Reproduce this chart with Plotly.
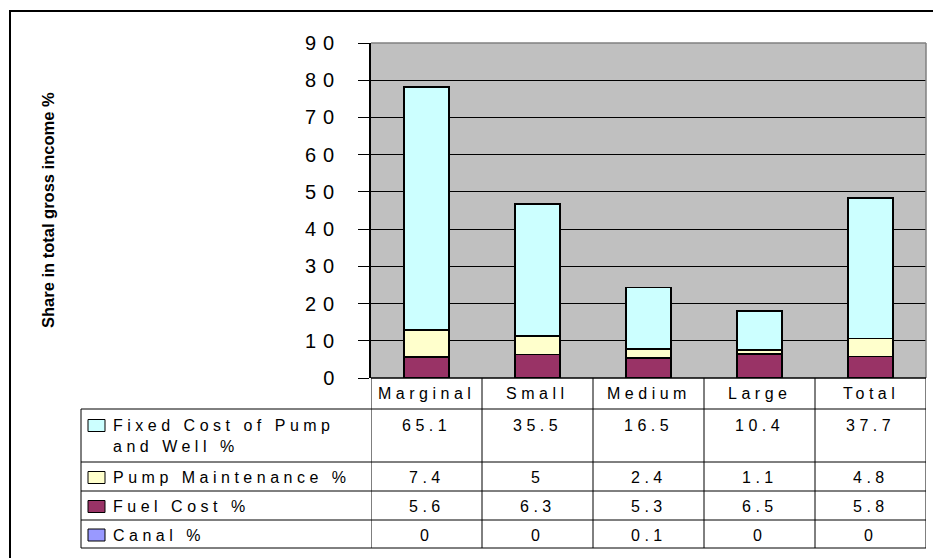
import textwrap
import plotly.graph_objects as go

# ---- data ----
categories = ["Marginal", "Small", "Medium", "Large", "Total"]
fixed_cost = [65.1, 35.5, 16.5, 10.4, 37.7]
pump_maintenance = [7.4, 5, 2.4, 1.1, 4.8]
fuel_cost = [5.6, 6.3, 5.3, 6.5, 5.8]
canal = [0, 0, 0.1, 0, 0]
y_ticks = [0, 10, 20, 30, 40, 50, 60, 70, 80, 90]

series_names = ["Fixed Cost of Pump and Well %", "Pump Maintenance %", "Fuel Cost %", "Canal %"]
series_values = [fixed_cost, pump_maintenance, fuel_cost, canal]
series_colors = ["#CCFFFF", "#FFFFCC", "#993366", "#9999FF"]

# ---- layout geometry (pixels) ----
W, H = 933, 558
L, R, T, B = 371, 7, 43, 180
PW, PH = W - L - R, H - T - B
FONT = "Arial, Liberation Sans, sans-serif"


def px(x):
    return (x - L) / PW


def py(y):
    return (H - B - y) / PH


def spaced(s, ls):
    return f'<span style="letter-spacing:{ls}px">{s}</span>'


fig = go.Figure()

# stacked columns, bottom to top
for idx in [3, 2, 1, 0]:
    fig.add_trace(go.Bar(
        x=categories, y=series_values[idx], name=series_names[idx],
        width=0.41,
        marker=dict(color=series_colors[idx], line=dict(color="black", width=1.8)),
        showlegend=False, hoverinfo="x+y+name",
    ))

shapes = []
annotations = []

# chart frame
shapes.append(dict(type="rect", xref="paper", yref="paper",
                   x0=px(10), x1=px(960), y0=py(11), y1=py(600),
                   line=dict(color="black", width=2), fillcolor="rgba(0,0,0,0)", layer="above"))
# plot area border (top and right)
shapes.append(dict(type="line", xref="paper", yref="paper", x0=0, x1=1, y0=1, y1=1,
                   line=dict(color="#808080", width=1.5), layer="above"))
shapes.append(dict(type="line", xref="paper", yref="paper", x0=1, x1=1, y0=0, y1=1,
                   line=dict(color="#808080", width=1.5), layer="above"))

# data table
header_top = 378
row_edges = [409, 462, 491, 520, 548]
table_left = 81
line_style = dict(color="black", width=1)

shapes.append(dict(type="line", xref="paper", yref="paper", x0=0, x1=1,
                   y0=py(header_top), y1=py(header_top), line=dict(color="black", width=1.5)))
for yy in row_edges:
    shapes.append(dict(type="line", xref="paper", yref="paper", x0=px(table_left), x1=1,
                       y0=py(yy), y1=py(yy), line=line_style))
shapes.append(dict(type="line", xref="paper", yref="paper", x0=px(table_left), x1=px(table_left),
                   y0=py(row_edges[0]), y1=py(row_edges[-1]), line=line_style))
for k in range(len(categories) + 1):
    shapes.append(dict(type="line", xref="x", yref="paper", x0=k - 0.5, x1=k - 0.5,
                       y0=py(header_top), y1=py(row_edges[-1]), line=line_style))

cell_font = dict(family=FONT, size=16, color="black")
LS = 4.5

for i, cat in enumerate(categories):
    annotations.append(dict(xref="x", yref="paper", x=i, y=py(393.5),
                            text=spaced(cat, LS), showarrow=False, font=cell_font,
                            xanchor="center", yanchor="middle"))

for r, name in enumerate(series_names):
    top, bot = row_edges[r], row_edges[r + 1]
    lines = textwrap.wrap(name, 18)
    if len(lines) > 1:
        line_y = top + 16.5
        label_y = line_y + 10.5
    else:
        line_y = (top + bot) / 2 + 1
        label_y = line_y
    annotations.append(dict(xref="paper", yref="paper", x=px(111), y=py(label_y),
                            text="<br>".join(spaced(s, LS) for s in lines), showarrow=False,
                            font=cell_font, xanchor="left", yanchor="middle", align="left"))
    shapes.append(dict(type="rect", xref="paper", yref="paper",
                       x0=px(88), x1=px(105), y0=py(line_y - 6), y1=py(line_y + 6),
                       fillcolor=series_colors[r], line=dict(color="black", width=1)))
    for i, v in enumerate(series_values[r]):
        annotations.append(dict(xref="x", yref="paper", x=i, y=py(line_y),
                                text=spaced(f"{v:g}", LS), showarrow=False, font=cell_font,
                                xanchor="center", yanchor="middle"))

# axis title
annotations.append(dict(xref="paper", yref="paper", x=px(48), y=py(210),
                        text="<b>Share in total gross income %</b>", textangle=-90,
                        showarrow=False, font=dict(family=FONT, size=16.5, color="black"),
                        xanchor="center", yanchor="middle"))

fig.update_layout(
    width=W, height=H,
    margin=dict(l=L, r=R, t=T, b=B, pad=0),
    barmode="stack",
    paper_bgcolor="white",
    plot_bgcolor="#C0C0C0",
    showlegend=False,
    shapes=shapes,
    annotations=annotations,
    xaxis=dict(range=[-0.5, 4.5], showticklabels=False, showgrid=False,
               zeroline=False, showline=False, ticks=""),
    yaxis=dict(range=[0, 90], tickvals=y_ticks,
               ticktext=[spaced(str(t), 7) for t in y_ticks],
               tickfont=dict(family=FONT, size=20, color="black"),
               showgrid=True, gridcolor="black", gridwidth=1,
               zeroline=False, showline=True, linecolor="black", linewidth=1.5,
               ticks="outside", ticklen=11, tickcolor="black", tickwidth=1,
               ticklabelstandoff=13),
)

fig.write_html("out.html")
